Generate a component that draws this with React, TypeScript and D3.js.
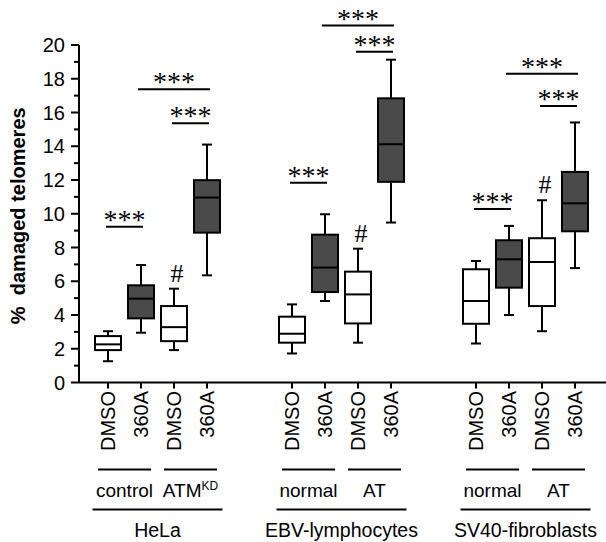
import React from 'react';
import * as d3 from 'd3';

// cell lines (panels), sub-lines and treatments
const groups = ['HeLa', 'EBV-lymphocytes', 'SV40-fibroblasts'];
const subgroups = [
  ['control', 'ATM'],
  ['normal', 'AT'],
  ['normal', 'AT'],
];
const treatments = ['DMSO', '360A', 'DMSO', '360A'];

// box stats per panel: [min, q1, median, q3, max]
const helaStats = [
  [1.26, 1.92, 2.26, 2.75, 3.04],
  [2.95, 3.8, 4.97, 5.76, 6.96],
  [1.92, 2.45, 3.28, 4.53, 5.56],
  [6.35, 8.88, 10.96, 11.99, 14.1],
];
const ebvStats = [
  [1.72, 2.36, 2.89, 3.9, 4.63],
  [4.83, 5.36, 6.81, 8.76, 9.97],
  [2.36, 3.5, 5.22, 6.57, 7.93],
  [9.48, 11.89, 14.12, 16.84, 19.13],
];
const sv40Stats = [
  [2.31, 3.48, 4.83, 6.71, 7.2],
  [4.0, 5.62, 7.3, 8.43, 9.28],
  [3.04, 4.53, 7.14, 8.55, 10.8],
  [6.78, 8.96, 10.62, 12.48, 15.41],
];
const stats = [helaStats, ebvStats, sv40Stats];

// significance brackets: [from box, to box] and bracket level per panel
const sigPairs = [
  [0, 1],
  [2, 3],
  [1, 3],
];
const helaSig = [9.23, 15.36, 17.38];
const ebvSig = [11.84, 19.6, 21.15];
const sv40Sig = [10.28, 16.39, 18.29];
const sigLevels = [helaSig, ebvSig, sv40Sig];

// box marked with "#"
const hashBox = 2;

const yMajor = d3.range(0, 21, 2);
const yMinor = d3.range(1, 20, 2);

const W = 606;
const H = 542;
const sans = "'Liberation Sans', Arial, sans-serif";
const serif = "'Liberation Serif', 'Times New Roman', serif";
const dark = '#4a4a4a';

export default function App() {
  const y = d3.scaleLinear().domain([0, 20]).range([382.5, 45]);
  const gx = d3.scalePoint<string>().domain(groups).range([157.5, 525.5]);
  const ix = d3.scalePoint<number>().domain([0, 1, 2, 3]).range([-49.5, 49.5]);
  const axisX = 79;
  const axisY = y(0);
  const boxW = 26;

  const cx = (g: number, i: number) => (gx(groups[g]) as number) + (ix(i) as number);

  return (
    <svg
      width={W}
      height={H}
      style={{ position: 'absolute', left: 0, top: 0, background: '#fff' }}
    >
      {/* y axis */}
      <line x1={axisX} x2={axisX} y1={y(20)} y2={axisY} stroke="#000" strokeWidth={2} />
      {yMajor.map((v) => (
        <g key={'M' + v}>
          <line x1={axisX - 8} x2={axisX} y1={y(v)} y2={y(v)} stroke="#000" strokeWidth={2} />
          <text
            x={65}
            y={y(v)}
            dy="0.36em"
            textAnchor="end"
            fontFamily={sans}
            fontSize={20}
          >
            {v}
          </text>
        </g>
      ))}
      {yMinor.map((v) => (
        <line key={'m' + v} x1={axisX - 5} x2={axisX} y1={y(v)} y2={y(v)} stroke="#000" strokeWidth={2} />
      ))}
      <text
        transform={`translate(25,${(y(0) + y(20)) / 2 + 2}) rotate(-90)`}
        textAnchor="middle"
        fontFamily={sans}
        fontWeight="bold"
        fontSize={20}
        style={{ whiteSpace: 'pre' }}
      >
        {'%  damaged telomeres'}
      </text>

      {/* x axis */}
      <line x1={axisX} x2={W} y1={axisY} y2={axisY} stroke="#000" strokeWidth={2} />

      {groups.map((g, gi) => {
        const center = gx(g) as number;
        return (
          <g key={g}>
            {stats[gi].map((s, i) => {
              const x = cx(gi, i);
              const [mn, q1, md, q3, mx] = s;
              return (
                <g key={i}>
                  <line x1={x} x2={x} y1={axisY} y2={axisY + 6} stroke="#000" strokeWidth={2} />
                  <line x1={x} x2={x} y1={y(mx)} y2={y(q3)} stroke="#000" strokeWidth={2} />
                  <line x1={x} x2={x} y1={y(q1)} y2={y(mn)} stroke="#000" strokeWidth={2} />
                  <line x1={x - 5} x2={x + 5} y1={y(mx)} y2={y(mx)} stroke="#000" strokeWidth={2} />
                  <line x1={x - 5} x2={x + 5} y1={y(mn)} y2={y(mn)} stroke="#000" strokeWidth={2} />
                  <rect
                    x={x - boxW / 2}
                    y={y(q3)}
                    width={boxW}
                    height={y(q1) - y(q3)}
                    fill={i % 2 === 1 ? dark : '#fff'}
                    stroke="#000"
                    strokeWidth={2}
                  />
                  <line x1={x - boxW / 2} x2={x + boxW / 2} y1={y(md)} y2={y(md)} stroke="#000" strokeWidth={2} />
                  <text
                    transform={`translate(${x},391) rotate(-90)`}
                    dy="0.36em"
                    textAnchor="end"
                    fontFamily={sans}
                    fontSize={20}
                  >
                    {treatments[i]}
                  </text>
                  {i === hashBox && (
                    <text
                      x={x + 3}
                      y={y(mx) - 7}
                      textAnchor="middle"
                      fontFamily={serif}
                      fontSize={26}
                    >
                      #
                    </text>
                  )}
                </g>
              );
            })}

            {sigPairs.map(([a, b], k) => {
              const x1 = cx(gi, a) - (k === 2 ? 3 : 2);
              const x2 = cx(gi, b) + (k === 2 ? 3 : 2);
              const ly = y(sigLevels[gi][k]);
              return (
                <g key={'s' + k}>
                  <line x1={x1} x2={x2} y1={ly} y2={ly} stroke="#000" strokeWidth={2} />
                  <text
                    x={(x1 + x2) / 2}
                    y={ly + 2}
                    textAnchor="middle"
                    fontFamily={serif}
                    fontSize={28}
                  >
                    ***
                  </text>
                </g>
              );
            })}

            {subgroups[gi].map((sg, k) => {
              const mid = (cx(gi, 2 * k) + cx(gi, 2 * k + 1)) / 2;
              return (
                <g key={sg}>
                  <line x1={mid - 26.5} x2={mid + 26.5} y1={469.5} y2={469.5} stroke="#000" strokeWidth={2} />
                  <text x={mid} y={497} textAnchor="middle" fontFamily={sans} fontSize={19}>
                    {sg}
                    {sg === 'ATM' && (
                      <tspan fontSize={12} dy={-7}>
                        KD
                      </tspan>
                    )}
                  </text>
                </g>
              );
            })}
            <line x1={center - 65} x2={center + 65} y1={509.5} y2={509.5} stroke="#000" strokeWidth={2} />
            <text x={center} y={537} textAnchor="middle" fontFamily={sans} fontSize={19.5}>
              {g}
            </text>
          </g>
        );
      })}
    </svg>
  );
}
